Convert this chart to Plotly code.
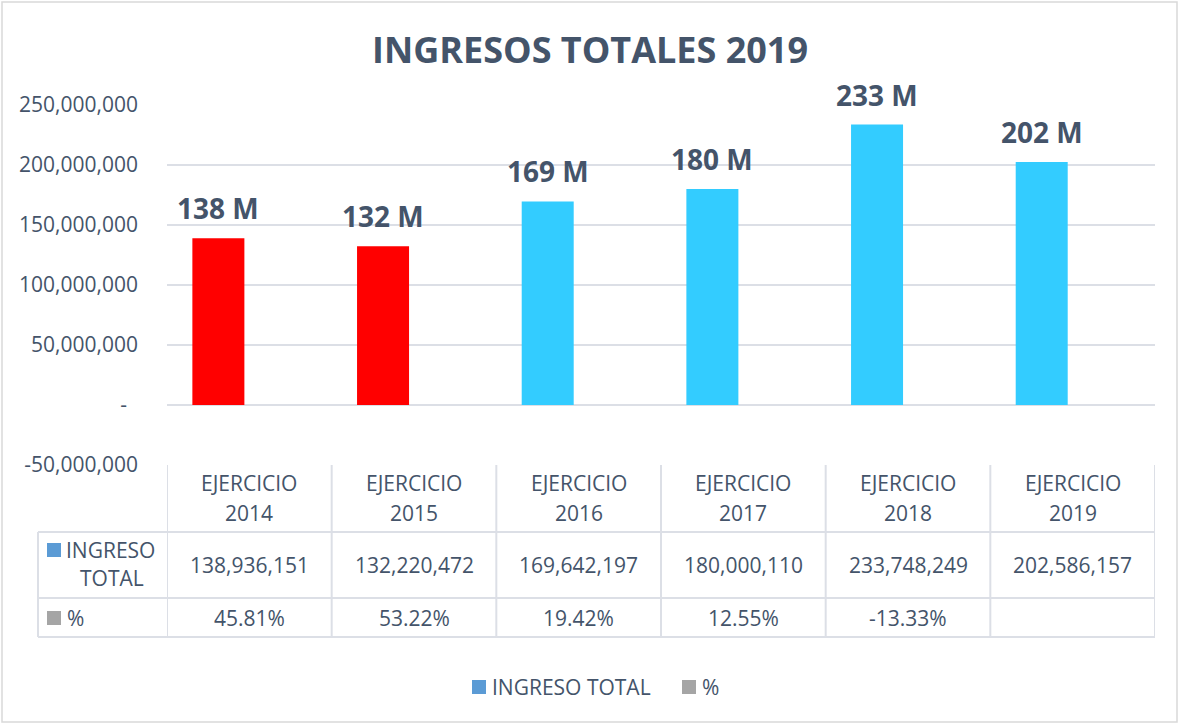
import plotly.graph_objects as go

years = ["2014", "2015", "2016", "2017", "2018", "2019"]
ingreso = [138936151, 132220472, 169642197, 180000110, 233748249, 202586157]
pct = [0.4581, 0.5322, 0.1942, 0.1255, -0.1333, None]
bar_colors = ["#FF0000", "#FF0000", "#33CCFF", "#33CCFF", "#33CCFF", "#33CCFF"]
ytick_vals = [-50000000, 0, 50000000, 100000000, 150000000, 200000000, 250000000]
ytick_text = ["-50,000,000", "-\u00a0\u00a0", "50,000,000", "100,000,000", "150,000,000", "200,000,000", "250,000,000"]

TXT = "#44546A"
GRID = "#DCDFE6"
FONT = "Open Sans"
FS = 21
W, H = 1180, 725
L, R, T, B = 167, 25, 105, 260
pw, ph = W - L - R, H - T - B

def px(x):
    return (x - L) / pw

def py(y):
    return (H - B - y) / ph

def txt(text, x, y, xref="paper", xanchor="center", size=FS):
    return dict(x=x, y=y, xref=xref, yref="paper", text=text, showarrow=False,
                xanchor=xanchor, yanchor="middle",
                font=dict(size=size, color=TXT, family=FONT))

cats = [f"EJERCICIO {y}" for y in years]

fig = go.Figure()
fig.add_trace(go.Bar(
    x=cats, y=ingreso, name="INGRESO TOTAL",
    marker=dict(color=bar_colors, line=dict(width=0)),
    showlegend=False, hoverinfo="skip"))
fig.add_trace(go.Bar(
    x=cats, y=pct, name="%",
    marker=dict(color="#A5A5A5", line=dict(width=0)),
    showlegend=False, hoverinfo="skip"))

ann = []
shapes = []
# data labels (above the INGRESO TOTAL bars, which sit in the left slot of each group)
for i, v in enumerate(ingreso):
    ann.append(dict(x=i, y=v, xref="x", yref="y", text=f"<b>{int(v // 1000000)} M</b>",
                    showarrow=False, xanchor="center", yanchor="bottom", yshift=9, xshift=-31,
                    font=dict(size=28, color=TXT, family=FONT)))

# table
for i, (y, v, p) in enumerate(zip(years, ingreso, pct)):
    ann.append(txt("EJERCICIO", i, py(483), xref="x"))
    ann.append(txt(y, i, py(513), xref="x"))
    ann.append(txt(f"{v:,}", i, py(565), xref="x"))
    ann.append(txt("" if p is None else f"{p * 100:.2f}%", i, py(618), xref="x"))

ann.append(txt("INGRESO", px(110), py(550)))
ann.append(txt("TOTAL", px(112), py(578)))
ann.append(txt("%", px(65), py(618), xanchor="left"))

# table squares
shapes.append(dict(type="rect", xref="paper", yref="paper", x0=px(47), x1=px(61), y0=py(543), y1=py(557),
                   fillcolor="#5B9BD5", line=dict(width=0)))
shapes.append(dict(type="rect", xref="paper", yref="paper", x0=px(47), x1=px(61), y0=py(611), y1=py(625),
                   fillcolor="#A5A5A5", line=dict(width=0)))

# table lines
ln = dict(color=GRID, width=2)
for yy in [532, 598, 637]:
    shapes.append(dict(type="line", xref="paper", yref="paper", x0=px(38), x1=1, y0=py(yy), y1=py(yy), line=ln))
shapes.append(dict(type="line", xref="paper", yref="paper", x0=px(38), x1=px(38), y0=py(532), y1=py(637), line=ln))
for k in range(7):
    shapes.append(dict(type="line", xref="x", yref="paper", x0=k - 0.5, x1=k - 0.5, y0=0, y1=py(637), line=ln))

# legend
shapes.append(dict(type="rect", xref="paper", yref="paper", x0=px(472), x1=px(486), y0=py(680), y1=py(694),
                   fillcolor="#5B9BD5", line=dict(width=0)))
shapes.append(dict(type="rect", xref="paper", yref="paper", x0=px(682), x1=px(696), y0=py(680), y1=py(694),
                   fillcolor="#A5A5A5", line=dict(width=0)))
ann.append(txt("INGRESO TOTAL", px(490), py(687), xanchor="left"))
ann.append(txt("%", px(700), py(687), xanchor="left"))

# outer border
shapes.append(dict(type="rect", xref="paper", yref="paper", x0=px(2), x1=px(1177), y0=py(722), y1=py(2),
                   line=dict(color="#D9D9D9", width=1.5), fillcolor="rgba(0,0,0,0)", layer="below"))

fig.update_layout(
    width=W, height=H, autosize=False,
    margin=dict(l=L, r=R, t=T, b=B),
    paper_bgcolor="white", plot_bgcolor="white",
    title=dict(text="<b>INGRESOS TOTALES 2019</b>", x=0.5, xref="container", y=1 - 50 / H, yref="container",
               xanchor="center", yanchor="middle", font=dict(size=36, color=TXT, family=FONT)),
    annotations=ann, shapes=shapes, barmode="group", bargap=0.248, bargroupgap=0.16,
    xaxis=dict(type="category", range=[-0.5, 5.5], showticklabels=False, showgrid=False,
               zeroline=False, showline=False, fixedrange=True),
    yaxis=dict(range=[-50000000, 250000000], tickvals=ytick_vals, ticktext=ytick_text,
               showgrid=True, gridcolor=GRID, gridwidth=2, zeroline=False, showline=False,
               ticks="", ticklabelstandoff=28,
               tickfont=dict(size=FS, color=TXT, family=FONT), fixedrange=True),
    showlegend=False,
)

fig.write_html("out.html", post_script="document.body.style.margin='0';",
               config={"displayModeBar": False})
